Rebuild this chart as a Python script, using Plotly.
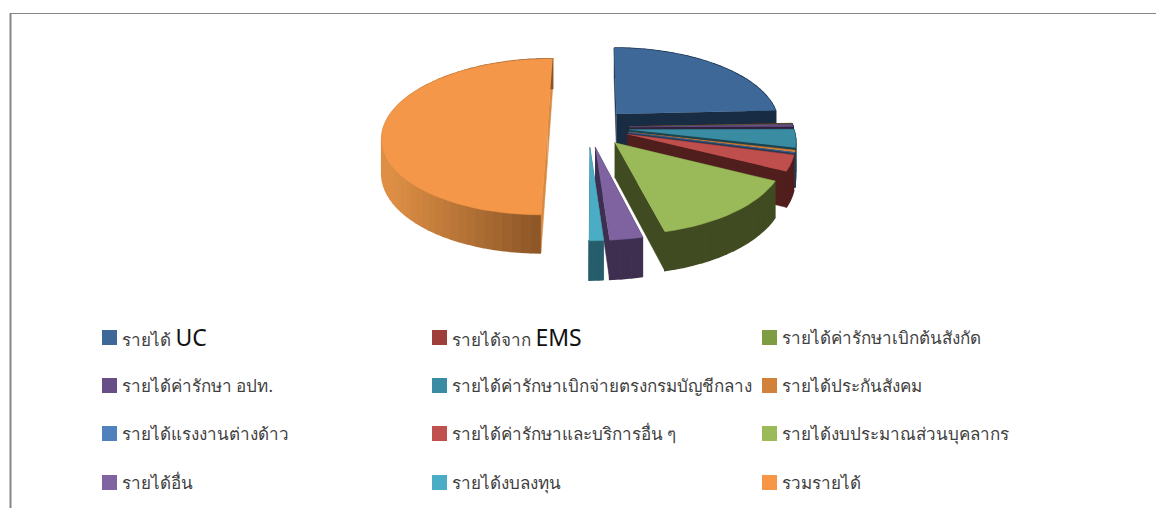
import numpy as np
import plotly.graph_objects as go

labels = ["รายได้ UC", "รายได้จาก EMS", "รายได้ค่ารักษาเบิกต้นสังกัด",
          "รายได้ค่ารักษา อปท.", "รายได้ค่ารักษาเบิกจ่ายตรงกรมบัญชีกลาง", "รายได้ประกันสังคม",
          "รายได้แรงงานต่างด้าว", "รายได้ค่ารักษาและบริการอื่น ๆ", "รายได้งบประมาณส่วนบุคลากร",
          "รายได้อื่น", "รายได้งบลงทุน", "รวมรายได้"]
values = [24.2, 0.05, 0.1, 0.5, 3.7, 0.4, 0.05, 3.3, 13.7, 2.8, 1.2, 50.0]
top_colors = ["#3E6897", "#9E3F3C", "#7E9C42", "#684E86", "#3A8CA3", "#D2813A",
              "#4F81BD", "#BE4F4C", "#9AB958", "#7F63A1", "#4AACC5", "#F49748"]
legend_colors = ["#3E6897", "#9E3F3C", "#7E9C42", "#684E86", "#3A8CA3", "#D2813A",
                 "#4F81BD", "#C0504D", "#9BBB59", "#8064A2", "#4BACC6", "#F79646"]
side_colors = ["#182C44", "#4A1C1B", "#3A4720", "#2F233E", "#1A4450", "#5E3A1A",
               "#243B58", "#501E1D", "#404B21", "#3E2F50", "#265D6B", "#D98A40"]

CX, CY, RX, RY, K, EX, EY, H, ROT = 588.5, 127.5, 164, 77, 0.12, 0.25, 0.25, 33.5, 0.3


def project(px, py):
    p = 1 / (1 - K * np.asarray(py))
    return CX + RX * np.asarray(px) * p, CY + RY * np.asarray(py) * p, p


def mix(c1, c2, t):
    a = [int(c1[i:i + 2], 16) for i in (1, 3, 5)]
    b = [int(c2[i:i + 2], 16) for i in (1, 3, 5)]
    return "#%02X%02X%02X" % tuple(int(round(u + (v - u) * t)) for u, v in zip(a, b))


fig = go.Figure()


def poly(xs, ys, color, lw=0.5):
    fig.add_trace(go.Scatter(x=list(xs), y=list(ys), mode="lines", fill="toself", fillcolor=color,
                             line=dict(color=color, width=lw), hoverinfo="skip", showlegend=False))


edges = np.cumsum([0] + values) / sum(values) * 360 + ROT
for i in range(len(values)):
    a0, a1 = np.radians(edges[i]), np.radians(edges[i + 1])
    b = (a0 + a1) / 2
    ox, oy = EX * np.sin(b), -EY * np.cos(b)
    n = max(3, int(np.degrees(a1 - a0) / 3))
    t = np.linspace(a0, a1, n + 1)
    px = ox + np.sin(t)
    py = oy - np.cos(t)
    X, Y, P = project(px, py)
    ax, ay, ap = project(ox, oy)
    ax, ay, ap = float(ax), float(ay), float(ap)
    # side faces
    for j in (0, -1) if i != 11 else (-1, 0):
        poly([ax, X[j], X[j], ax], [ay, Y[j], Y[j] + H * P[j], ay + H * ap], side_colors[i])
    # outer wall
    for j in range(n):
        mid = (X[j] + X[j + 1]) / 2
        if i == 11:
            c = mix("#8A5526", "#DE8F45", min(1, max(0, (541 - mid) / 150)))
        else:
            c = side_colors[i]
        poly([X[j], X[j + 1], X[j + 1], X[j]],
             [Y[j], Y[j + 1], Y[j + 1] + H * P[j + 1], Y[j] + H * P[j]], c, 1.5)
    poly([ax, *X], [ay, *Y], top_colors[i])

col_x = [102, 432, 762]
row_y = [337, 385, 433, 482]
big = {0: ("รายได้ ", "UC"), 1: ("รายได้จาก ", "EMS")}
annotations = []
for i, lab in enumerate(labels):
    cx, ry = col_x[i % 3], row_y[i // 3]
    txt = lab
    if i in big:
        txt = big[i][0] + '<span style="font-size:23px;color:#111111">' + big[i][1] + "</span>"
    annotations.append(dict(x=cx + 17.5, y=ry, xref="x", yref="y", text=txt, showarrow=False, xanchor="left",
                            yanchor="middle", font=dict(family="Noto Sans, Tahoma, sans-serif", size=17, color="#404040")))
fig.add_trace(go.Scatter(x=[col_x[i % 3] + 7.5 for i in range(12)], y=[row_y[i // 3] + 0.5 for i in range(12)],
                         mode="markers", marker=dict(symbol="square", size=15, color=legend_colors, line=dict(width=0)),
                         hoverinfo="skip", showlegend=False))

fig.update_layout(width=1156, height=508, margin=dict(l=0, r=0, t=0, b=0), autosize=False,
                  paper_bgcolor="white", plot_bgcolor="white", showlegend=False, annotations=annotations,
                  xaxis=dict(range=[0, 1156], visible=False, fixedrange=True),
                  yaxis=dict(range=[508, 0], visible=False, fixedrange=True),
                  shapes=[dict(type="line", x0=10, x1=1156, y0=13.5, y1=13.5, line=dict(color="#868686", width=1)),
                          dict(type="line", x0=10.5, x1=10.5, y0=13, y1=508, line=dict(color="#868686", width=2))])
fig.write_html("out.html", config=dict(displayModeBar=False),
               post_script="document.body.style.margin='0';document.documentElement.style.overflow='hidden';")
